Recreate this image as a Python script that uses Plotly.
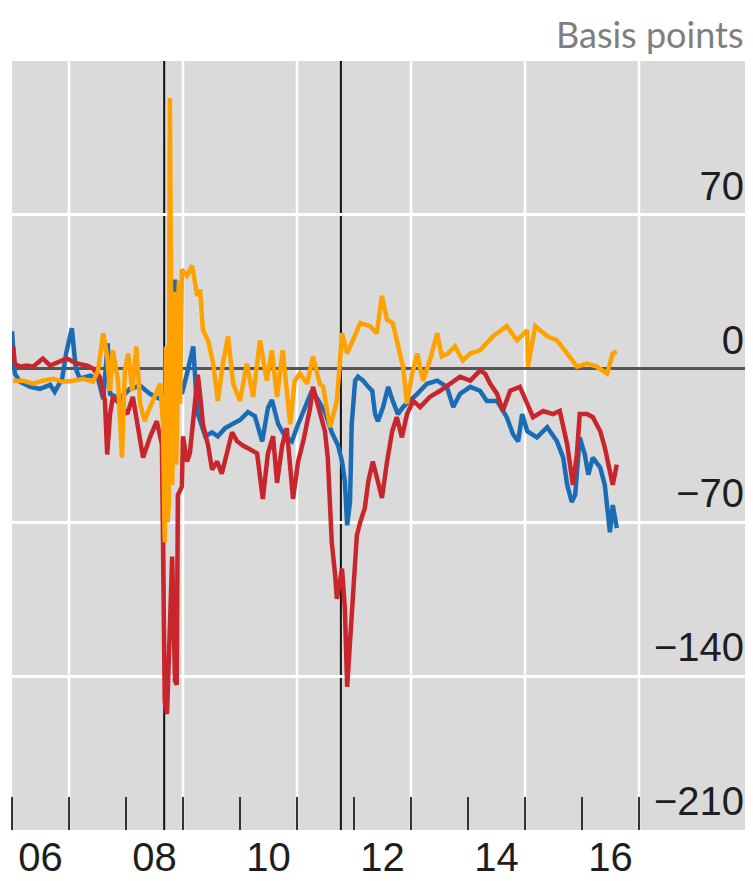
import plotly.graph_objects as go

# ---------------- data (decimal years, basis points) ----------------
blue_x = [2006.00, 2006.05, 2006.14, 2006.32, 2006.49, 2006.67, 2006.75, 2006.88, 2006.95, 2007.02,
          2007.05, 2007.12, 2007.19, 2007.37, 2007.51, 2007.60, 2007.65, 2007.68, 2007.72, 2007.89,
          2008.07, 2008.25, 2008.42, 2008.60, 2008.68, 2008.77, 2008.86, 2008.91, 2008.98, 2009.07,
          2009.18, 2009.25, 2009.30, 2009.39, 2009.51, 2009.61, 2009.74, 2009.86, 2010.00, 2010.14,
          2010.26, 2010.39, 2010.49, 2010.56, 2010.67, 2010.79, 2010.91, 2011.02, 2011.14, 2011.26,
          2011.37, 2011.49, 2011.61, 2011.72, 2011.79, 2011.84, 2011.88, 2011.93, 2011.96, 2012.02,
          2012.07, 2012.16, 2012.25, 2012.32, 2012.37, 2012.42, 2012.51, 2012.60, 2012.68, 2012.77,
          2012.86, 2012.98, 2013.11, 2013.28, 2013.46, 2013.63, 2013.74, 2013.86, 2014.04, 2014.21,
          2014.33, 2014.51, 2014.68, 2014.79, 2014.88, 2014.95, 2015.04, 2015.21, 2015.39, 2015.56,
          2015.67, 2015.74, 2015.82, 2015.88, 2015.96, 2016.05, 2016.11, 2016.19, 2016.32, 2016.40,
          2016.49, 2016.54, 2016.61]
blue_y = [17.0, -2.3, -6.0, -8.3, -9.2, -7.4, -10.6, -4.6, 6.9, 16.1,
          18.4, 0.0, -4.6, -3.2, -4.6, -13.8, 2.3, 11.5, -11.5, -13.8,
          -9.2, -7.8, -11.5, -13.8, -11.5, 16.1, 40.5, -2.3, -11.5, -2.3,
          10.1, -19.8, -23.4, -30.8, -29.0, -30.8, -27.1, -25.3, -23.4, -19.8,
          -21.6, -33.1, -17.9, -14.3, -25.3, -30.8, -33.1, -25.3, -17.9, -10.1,
          -14.3, -19.8, -29.0, -35.0, -42.3, -51.5, -71.3, -60.7, -25.3, -5.5,
          -3.7, -5.5, -8.3, -10.1, -20.7, -23.9, -17.5, -8.3, -14.7, -20.7,
          -17.5, -14.7, -11.5, -6.9, -5.5, -8.3, -17.5, -11.5, -8.3, -10.1,
          -14.7, -14.7, -22.1, -29.9, -33.1, -20.7, -28.5, -31.3, -26.7, -33.1,
          -40.5, -52.9, -60.7, -57.5, -31.3, -39.1, -48.3, -40.5, -45.1, -52.9,
          -74.5, -62.1, -72.6]

red_x = [2006.02, 2006.05, 2006.14, 2006.26, 2006.37, 2006.54, 2006.67, 2006.84, 2006.96, 2007.14,
         2007.32, 2007.42, 2007.54, 2007.63, 2007.67, 2007.72, 2007.77, 2007.89, 2008.02, 2008.12,
         2008.25, 2008.30, 2008.42, 2008.54, 2008.63, 2008.65, 2008.68, 2008.72, 2008.77, 2008.81,
         2008.86, 2008.89, 2008.91, 2008.98, 2009.00, 2009.07, 2009.12, 2009.18, 2009.26, 2009.30,
         2009.35, 2009.44, 2009.51, 2009.60, 2009.68, 2009.77, 2009.86, 2009.95, 2010.05, 2010.18,
         2010.30, 2010.40, 2010.49, 2010.58, 2010.65, 2010.74, 2010.82, 2010.93, 2011.02, 2011.11,
         2011.18, 2011.23, 2011.28, 2011.37, 2011.49, 2011.54, 2011.61, 2011.67, 2011.70, 2011.79,
         2011.84, 2011.88, 2011.93, 2011.98, 2012.05, 2012.11, 2012.19, 2012.25, 2012.33, 2012.42,
         2012.49, 2012.58, 2012.67, 2012.75, 2012.84, 2012.93, 2013.04, 2013.16, 2013.33, 2013.51,
         2013.68, 2013.86, 2014.04, 2014.21, 2014.30, 2014.39, 2014.51, 2014.61, 2014.74, 2014.91,
         2015.04, 2015.14, 2015.32, 2015.49, 2015.61, 2015.74, 2015.84, 2015.91, 2015.96, 2016.09,
         2016.19, 2016.32, 2016.40, 2016.49, 2016.54, 2016.61]
red_y = [10.1, 2.3, 0.9, 1.4, 0.9, 4.6, 1.4, 3.2, 4.6, 2.3,
         1.4, 0.0, -3.7, -14.7, -39.1, -20.7, -12.9, -16.1, -20.7, -12.9,
         -34.5, -40.5, -31.3, -23.9, -34.5, -76.3, -151.7, -157.2, -114.0, -85.5,
         -142.1, -143.9, -57.5, -53.8, -30.8, -42.3, -38.6, -23.4, -2.8, -12.0,
         -25.3, -35.0, -46.0, -42.3, -47.8, -38.6, -29.0, -33.1, -35.0, -36.8,
         -38.6, -59.3, -38.6, -30.8, -52.0, -35.0, -27.1, -59.3, -42.3, -33.1,
         -23.9, -17.9, -8.3, -17.5, -28.5, -40.5, -79.1, -94.3, -104.8, -91.0,
         -109.4, -144.8, -125.1, -103.4, -75.9, -69.9, -63.4, -51.5, -42.3, -51.5,
         -58.9, -42.3, -28.5, -22.1, -31.3, -20.7, -14.7, -17.5, -12.9, -10.1,
         -6.9, -3.7, -5.5, -0.9, -2.3, -6.9, -11.5, -19.3, -10.1, -8.3,
         -16.1, -22.1, -19.3, -20.7, -19.3, -34.5, -52.9, -39.1, -20.7, -20.7,
         -22.1, -28.5, -35.9, -48.3, -52.9, -43.7]

orange_x = [2006.02, 2006.19, 2006.37, 2006.54, 2006.72, 2006.89, 2007.07, 2007.25, 2007.42, 2007.51,
            2007.60, 2007.67, 2007.72, 2007.77, 2007.86, 2007.93, 2007.98, 2008.04, 2008.11, 2008.18,
            2008.25, 2008.33, 2008.37, 2008.42, 2008.51, 2008.60, 2008.65, 2008.66, 2008.68, 2008.70,
            2008.72, 2008.73, 2008.75, 2008.77, 2008.79, 2008.81, 2008.83, 2008.84, 2008.86, 2008.88,
            2008.90, 2008.91, 2008.93, 2008.95, 2008.98, 2009.07, 2009.16, 2009.25,
            2009.30, 2009.35, 2009.44, 2009.53, 2009.61, 2009.70, 2009.79, 2009.88, 2010.00, 2010.12,
            2010.23, 2010.35, 2010.47, 2010.56, 2010.65, 2010.75, 2010.88, 2010.96, 2011.05, 2011.18,
            2011.28, 2011.40, 2011.46, 2011.58, 2011.70, 2011.79, 2011.88, 2011.98, 2012.11, 2012.28,
            2012.40, 2012.49, 2012.58, 2012.68, 2012.77, 2012.86, 2012.93, 2013.02, 2013.11, 2013.21,
            2013.33, 2013.46, 2013.54, 2013.65, 2013.77, 2013.91, 2014.04, 2014.21, 2014.44, 2014.68,
            2014.86, 2015.04, 2015.05, 2015.18, 2015.39, 2015.56, 2015.74, 2015.91, 2016.09, 2016.26,
            2016.44, 2016.54, 2016.61]
orange_y = [-5.5, -5.5, -6.9, -5.5, -4.6, -6.0, -5.5, -4.6, -6.0, -0.9,
            16.1, 5.5, -10.1, 8.3, -5.5, -40.5, -0.9, 6.9, -10.1, 10.1,
            -16.1, -23.9, -20.7, -17.5, -12.9, -6.9, -25.3, -40.0, -79.1, 10.0,
            -16.1, -70.0, -62.1, 123.2, 30.0, -52.9, -30.0, 6.9, 35.0, -43.7,
            -20.0, 29.9, 40.0, -16.1, 45.1, 42.3, 46.9, 33.1,
            35.9, 17.5, 12.9, 2.3, -14.7, 2.3, 14.7, -6.9, -14.7, 2.3,
            -12.9, 12.9, -5.5, 8.3, -12.9, 8.3, -25.3, -5.5, -2.3, -6.9,
            5.5, -6.9, -8.3, -26.7, -14.7, 16.1, 6.9, 12.9, 20.7, 19.3,
            16.1, 33.1, 22.1, 20.7, 11.5, 0.9, -16.1, -2.3, 6.9, -5.5,
            3.7, 16.1, 5.5, 6.9, 10.1, 3.7, 6.9, 8.3, 14.7, 19.3,
            12.9, 17.5, 0.9, 19.3, 14.7, 12.9, 6.9, 0.9, 2.3, 0.9,
            -2.3, 6.9, 7.8]

event_years = [2008.67, 2011.77]
grid_years = [2007, 2009, 2011, 2013, 2015, 2017]
label_pos = [2006.5, 2008.5, 2010.5, 2012.5, 2014.5, 2016.5]
label_text = ["06", "08", "10", "12", "14", "16"]
y_ticks = [-210, -140, -70, 0, 70]

# ---------------- figure ----------------
TICK_FONT = dict(family="Liberation Sans, Arial, sans-serif", size=40, color="#1e1e1e")

fig = go.Figure()
for xs, ys, col in [(blue_x, blue_y, "#1a6db5"), (red_x, red_y, "#c8262c"), (orange_x, orange_y, "#ffa200")]:
    fig.add_trace(go.Scatter(x=xs, y=ys, mode="lines", line=dict(color=col, width=4.5),
                             showlegend=False, hoverinfo="skip"))

shapes = []
for g in grid_years:
    shapes.append(dict(type="line", xref="x", yref="paper", x0=g, x1=g, y0=0, y1=1,
                       line=dict(color="white", width=2.5), layer="below"))
for e in event_years:
    shapes.append(dict(type="line", xref="x", yref="paper", x0=e, x1=e, y0=0, y1=1,
                       line=dict(color="#111111", width=2), layer="below"))

# page body has an 8px margin: shrink the figure so the plot area lands where the reference has it
fig.update_layout(
    width=745, height=873,
    margin=dict(l=4, r=0, t=53, b=51),
    paper_bgcolor="white", plot_bgcolor="#dadada",
    shapes=shapes,
    xaxis=dict(range=[2006, 2019], tickmode="array", tickvals=label_pos, ticktext=label_text,
               ticks="", showgrid=False, zeroline=False, showline=False, tickfont=TICK_FONT,
               minor=dict(tickmode="linear", tick0=2006, dtick=1, ticks="inside", ticklen=33,
                          tickwidth=2, tickcolor="#333333", showgrid=False)),
    yaxis=dict(range=[-210, 140], side="right", tickmode="array", tickvals=y_ticks,
               ticks="", ticklabelposition="inside", ticklabelshift=-29, ticklabelstandoff=6,
               showgrid=True, gridcolor="white", gridwidth=2.5,
               zeroline=True, zerolinecolor="#555555", zerolinewidth=3,
               showline=False, tickfont=TICK_FONT),
    annotations=[dict(text="Basis points", xref="paper", yref="paper", x=1, y=1.035,
                      xanchor="right", yanchor="middle", xshift=-8, showarrow=False,
                      font=dict(family="Lato, Open Sans, sans-serif", size=36, color="#7f7f7f"))],
)

fig.write_html("out.html")
